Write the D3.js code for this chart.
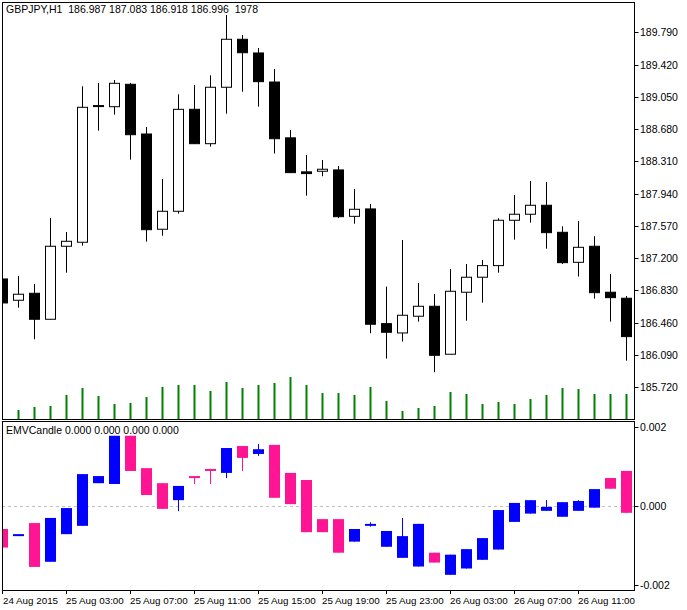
<!DOCTYPE html>
<html><head><meta charset="utf-8">
<script src="https://cdn.jsdelivr.net/npm/d3@7"></script>
<style>
body{margin:0;background:#fff}
text{font-family:"Liberation Sans",Arial,sans-serif;font-size:10.5px;fill:#000}
text.tl{font-size:9.8px}
</style></head>
<body><div class="container"></div>
<script>
// price candles: open, high, low, close
var opens  = [186.962,186.718,186.798,186.500,187.337,187.383,188.940,188.937,189.194,188.624,187.532,187.738,188.907,188.513,189.160,189.710,189.553,189.220,188.580,188.190,188.197,188.212,187.680,187.765,186.450,186.343,186.535,186.649,186.099,186.810,186.982,187.115,187.635,187.704,187.807,187.497,187.153,187.337,186.810,186.741];
var highs  = [186.990,186.997,186.905,187.661,187.501,189.171,189.209,189.243,189.210,188.705,188.108,189.079,189.186,189.297,189.988,189.759,189.610,189.370,188.670,188.383,188.326,188.256,187.994,187.822,186.874,187.409,186.916,186.790,187.077,187.134,187.180,187.658,187.925,188.086,188.074,187.566,187.627,187.452,187.020,186.767];
var lows   = [186.670,186.633,186.271,186.500,187.034,187.344,188.662,188.846,188.330,187.390,187.458,187.711,188.513,188.479,188.857,189.109,188.937,188.400,188.180,187.917,188.140,187.660,187.596,186.340,186.050,186.244,186.473,185.893,186.099,186.484,186.690,187.034,187.413,187.608,187.310,187.134,186.990,186.736,186.473,186.026];
var closes = [186.687,186.787,186.500,187.337,187.394,188.930,188.950,189.205,188.616,187.527,187.738,188.907,188.513,189.160,189.710,189.556,189.224,188.570,188.181,188.170,188.220,187.676,187.761,186.443,186.351,186.546,186.649,186.087,186.821,186.982,187.115,187.635,187.704,187.807,187.493,187.149,187.325,186.805,186.748,186.301];
var volumes = [0,9,12,13,24,31,23,15,16,22,32,34,34,28,37,31,34,36,42,34,26,26,24,32,18,8,11,13,27,25,15,17,15,20,24,31,30,25,25,25];
var priceTicks = [189.790,189.420,189.050,188.680,188.310,187.940,187.570,187.200,186.830,186.460,186.090,185.720];

// EMV candles (units of 0.001): open, close, high, low
var emvOpen  = [-0.59,-0.76,-0.44,-1.42,-0.72,-0.51,0.57,0.55,1.77,0.95,0.57,0.14,0.75,0.93,0.83,1.51,1.31,1.54,0.83,0.65,-0.34,-0.34,-0.91,-0.49,-1.04,-1.32,-1.54,-1.19,-1.75,-1.59,-1.37,-1.11,-0.41,-0.20,-0.13,-0.28,-0.13,-0.05,0.70,0.88];
var emvClose = [-1.06,-0.72,-1.55,-0.31,-0.06,0.80,0.75,1.77,0.88,0.27,-0.08,0.50,0.70,0.92,1.46,1.21,1.43,0.20,0.04,-0.67,-0.67,-1.19,-0.59,-0.46,-0.64,-0.77,-0.46,-1.44,-1.24,-1.10,-0.82,-0.11,0.07,0.14,-0.03,0.09,0.12,0.42,0.43,-0.18];
var emvHigh  = [-0.59,-0.72,-0.44,-0.31,-0.06,0.80,0.75,1.77,1.77,0.95,0.57,0.50,0.75,0.93,1.46,1.51,1.56,1.54,0.83,0.65,-0.34,-0.34,-0.59,-0.42,-0.64,-0.31,-0.46,-1.19,-1.24,-1.10,-0.82,-0.11,0.07,0.14,0.14,0.09,0.14,0.42,0.70,0.88];
var emvLow   = [-1.06,-0.76,-1.55,-1.42,-0.72,-0.51,0.57,0.55,0.88,0.27,-0.08,-0.14,0.55,0.55,0.70,0.88,1.26,0.20,0.04,-0.67,-0.67,-1.19,-0.91,-0.53,-1.04,-1.32,-1.54,-1.44,-1.75,-1.59,-1.37,-1.11,-0.41,-0.20,-0.13,-0.28,-0.13,-0.05,0.43,-0.18];
var emvTicks = [0.002,0.000,-0.002];
var timeLabels = ["24 Aug 2015","25 Aug 03:00","25 Aug 07:00","25 Aug 11:00","25 Aug 15:00","25 Aug 19:00","25 Aug 23:00","26 Aug 03:00","26 Aug 07:00","26 Aug 11:00"];

var W = 687, H = 610, left = 2, right = 634;
var mainTop = 2, mainBot = 419, subTop = 421, subBot = 590;

var svg = d3.select(".container").append("svg").attr("width", W).attr("height", H);

var x = d3.scaleLinear().domain([0, 39]).range([2, 626]);
var y = d3.scaleLinear().domain([185.720, 189.790]).range([387.3, 32.3]);
var yv = d3.scaleLinear().domain([0, 42]).range([mainBot, mainBot - 42]);
var ye = d3.scaleLinear().domain([-0.002, 0.002]).range([584.7, 426.7]);

var idx = d3.range(opens.length);

// ---------- MAIN PANEL ----------
var gm = svg.append("g");
gm.append("clipPath").attr("id", "cm").append("rect")
  .attr("x", left + 0.5).attr("y", mainTop).attr("width", right - left).attr("height", mainBot - mainTop);
var pm = gm.append("g").attr("clip-path", "url(#cm)");

pm.selectAll(".vol").data(idx).enter().append("line")
  .attr("x1", function(i) { return Math.round(x(i)) + 0.5; })
  .attr("x2", function(i) { return Math.round(x(i)) + 0.5; })
  .attr("y1", mainBot).attr("y2", function(i) { return yv(volumes[i]); })
  .attr("stroke", "#008000").attr("stroke-width", 2);

pm.selectAll(".wick").data(idx).enter().append("line")
  .attr("x1", function(i) { return Math.round(x(i)) + 0.5; })
  .attr("x2", function(i) { return Math.round(x(i)) + 0.5; })
  .attr("y1", function(i) { return y(highs[i]); })
  .attr("y2", function(i) { return y(lows[i]); })
  .attr("stroke", "#000").attr("stroke-width", 1);

pm.selectAll(".body").data(idx).enter().append("rect")
  .attr("x", function(i) { return Math.round(x(i)) - 4.5; })
  .attr("width", 10)
  .attr("y", function(i) { return y(Math.max(opens[i], closes[i])); })
  .attr("height", function(i) { return Math.max(1, Math.abs(y(opens[i]) - y(closes[i]))); })
  .attr("fill", function(i) { return closes[i] >= opens[i] ? "#fff" : "#000"; })
  .attr("stroke", "#000").attr("stroke-width", 1);

gm.append("rect").attr("x", left + 0.5).attr("y", mainTop + 0.5)
  .attr("width", right - left).attr("height", mainBot - mainTop)
  .attr("fill", "none").attr("stroke", "#000");

gm.append("text").attr("x", 6).attr("y", 13)
  .text("GBPJPY,H1  186.987 187.083 186.918 186.996  1978").attr("xml:space", "preserve");

var ya = gm.selectAll(".pt").data(priceTicks).enter().append("g");
ya.append("line").attr("x1", right + 0.5).attr("x2", right + 4.5)
  .attr("y1", function(d) { return Math.round(y(d)) + 0.5; })
  .attr("y2", function(d) { return Math.round(y(d)) + 0.5; }).attr("stroke", "#000");
ya.append("text").attr("x", 640).attr("y", function(d) { return y(d) + 4; })
  .text(function(d) { return d.toFixed(3); });

// ---------- EMV PANEL ----------
var ge = svg.append("g");
ge.append("clipPath").attr("id", "ce").append("rect")
  .attr("x", left + 0.5).attr("y", subTop).attr("width", right - left).attr("height", subBot - subTop);
var pe = ge.append("g").attr("clip-path", "url(#ce)");

pe.append("line").attr("x1", left).attr("x2", right)
  .attr("y1", Math.round(ye(0)) + 0.5).attr("y2", Math.round(ye(0)) + 0.5)
  .attr("stroke", "#c0c0c0").attr("stroke-dasharray", "3,3");

function ecol(i) { return emvClose[i] >= emvOpen[i] ? "#0000ff" : "#ff1493"; }

pe.selectAll(".ewick").data(idx).enter().append("line")
  .attr("x1", function(i) { return Math.round(x(i)) + 0.5; })
  .attr("x2", function(i) { return Math.round(x(i)) + 0.5; })
  .attr("y1", function(i) { return ye(emvHigh[i] / 1000); })
  .attr("y2", function(i) { return ye(emvLow[i] / 1000); })
  .attr("stroke", ecol).attr("stroke-width", 1);

pe.selectAll(".ebody").data(idx).enter().append("rect")
  .attr("x", function(i) { return Math.round(x(i)) - 5; })
  .attr("width", 11)
  .attr("y", function(i) { return ye(Math.max(emvOpen[i], emvClose[i]) / 1000); })
  .attr("height", function(i) { return Math.max(2, Math.abs(ye(emvOpen[i] / 1000) - ye(emvClose[i] / 1000))); })
  .attr("fill", ecol);

ge.append("rect").attr("x", left + 0.5).attr("y", subTop + 0.5)
  .attr("width", right - left).attr("height", subBot - subTop)
  .attr("fill", "none").attr("stroke", "#000");

ge.append("text").attr("x", 6).attr("y", 434).text("EMVCandle 0.000 0.000 0.000 0.000");

var ea = ge.selectAll(".et").data(emvTicks).enter().append("g");
ea.append("line").attr("x1", right + 0.5).attr("x2", right + 4.5)
  .attr("y1", function(d) { return Math.round(ye(d)) + 0.5; })
  .attr("y2", function(d) { return Math.round(ye(d)) + 0.5; }).attr("stroke", "#000");
ea.append("text").attr("x", 640).attr("y", function(d) { return ye(d) + 4; })
  .text(function(d) { return d.toFixed(3); });

// ---------- TIME AXIS ----------
var ta = svg.selectAll(".tlg").data(timeLabels).enter().append("g");
ta.append("line")
  .attr("x1", function(d, k) { return Math.round(x(k * 4)) + 0.5; })
  .attr("x2", function(d, k) { return Math.round(x(k * 4)) + 0.5; })
  .attr("y1", subBot).attr("y2", subBot + 4).attr("stroke", "#000");
ta.append("text").attr("class", "tl").attr("x", function(d, k) { return k === 0 ? 3 : x(k * 4); })
  .attr("y", 604).text(function(d) { return d; });
</script>
</body></html>
